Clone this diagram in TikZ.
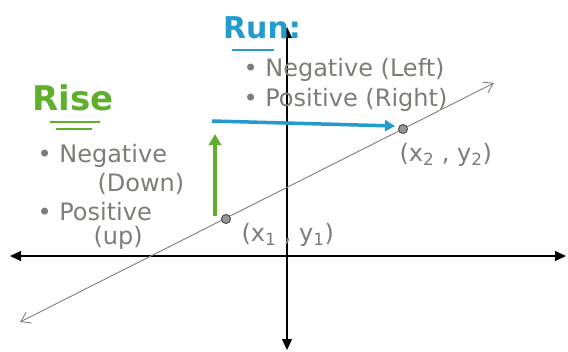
\documentclass[tikz,border=0pt]{standalone}
\usepackage{fontspec}
\setmainfont{DejaVu Sans}
\usetikzlibrary{arrows.meta}
\definecolor{risegreen}{RGB}{95,175,45}
\definecolor{runblue}{RGB}{35,155,205}
\definecolor{pencil}{RGB}{125,125,120}
\tikzset{
  axis/.style={line width=1.2pt, {Triangle[length=11pt,width=10pt]}-{Triangle[length=11pt,width=10pt]}},
  pt/.style={circle, fill=pencil!80, draw=black!70, line width=1pt, minimum size=9pt, inner sep=0pt},
  note/.style={pencil, anchor=west, font=\fontsize{24}{24}\selectfont},
}
\begin{document}
\begin{tikzpicture}[x=1pt,y=-1pt]
    \useasboundingbox (0,0) rectangle (568,351);
    % axes
    \coordinate (xl) at (10,256);
    \coordinate (xr) at (566,256);
    \coordinate (yt) at (287,27);
    \coordinate (yb) at (287,350);
    \draw[axis] (xl) -- (xr);
    \draw[axis] (yb) -- (yt);
    % line through the two points
    \coordinate (ll) at (20,322);
    \coordinate (lr) at (494,83);
    \draw[pencil, line width=0.9pt, {Straight Barb[length=9pt,width=12pt]}-{Straight Barb[length=9pt,width=12pt]}] (ll) -- (lr);
    % rise and run arrows
    \coordinate (g0) at (215,216);
    \coordinate (g1) at (215,134);
    \draw[risegreen, line width=3.5pt, -{Triangle[length=11pt,width=12pt]}] (g0) -- (g1);
    \coordinate (b0) at (212,121);
    \coordinate (b1) at (395,126);
    \draw[runblue, line width=3.5pt, -{Triangle[length=10pt,width=11pt]}] (b0) -- (b1);
    % points
    \node[pt] (p1) at (226,219) {};
    \node[pt] (p2) at (403,129) {};
    \node[note] (p1lbl) at (238,235) {(x\textsubscript{1} , y\textsubscript{1})};
    \node[note] (p2lbl) at (396,155) {(x\textsubscript{2} , y\textsubscript{2})};
    % rise labels
    \node[risegreen, font=\bfseries\fontsize{34}{34}\selectfont] (rise) at (73,98) {Rise};
    \draw[risegreen, line width=2.5pt] (50,122) -- (100,122);
    \draw[risegreen, line width=2.5pt] (56,129) -- (92,129);
    \node[note] (rneg) at (34,156) {• Negative};
    \node[note] (rdown) at (94,184) {(Down)};
    \node[note] (rpos) at (34,212) {• Positive};
    \node[note] (rup) at (90,238) {(up)};
    % run labels
    \node[runblue, font=\bfseries\fontsize{30}{30}\selectfont] (run) at (262,28) {Run:};
    \draw[runblue, line width=2.5pt] (232,50) -- (274,50);
    \node[note] (uneg) at (240,70) {• Negative (Left)};
    \node[note] (upos) at (240,100) {• Positive (Right)};
\end{tikzpicture}
\end{document}
